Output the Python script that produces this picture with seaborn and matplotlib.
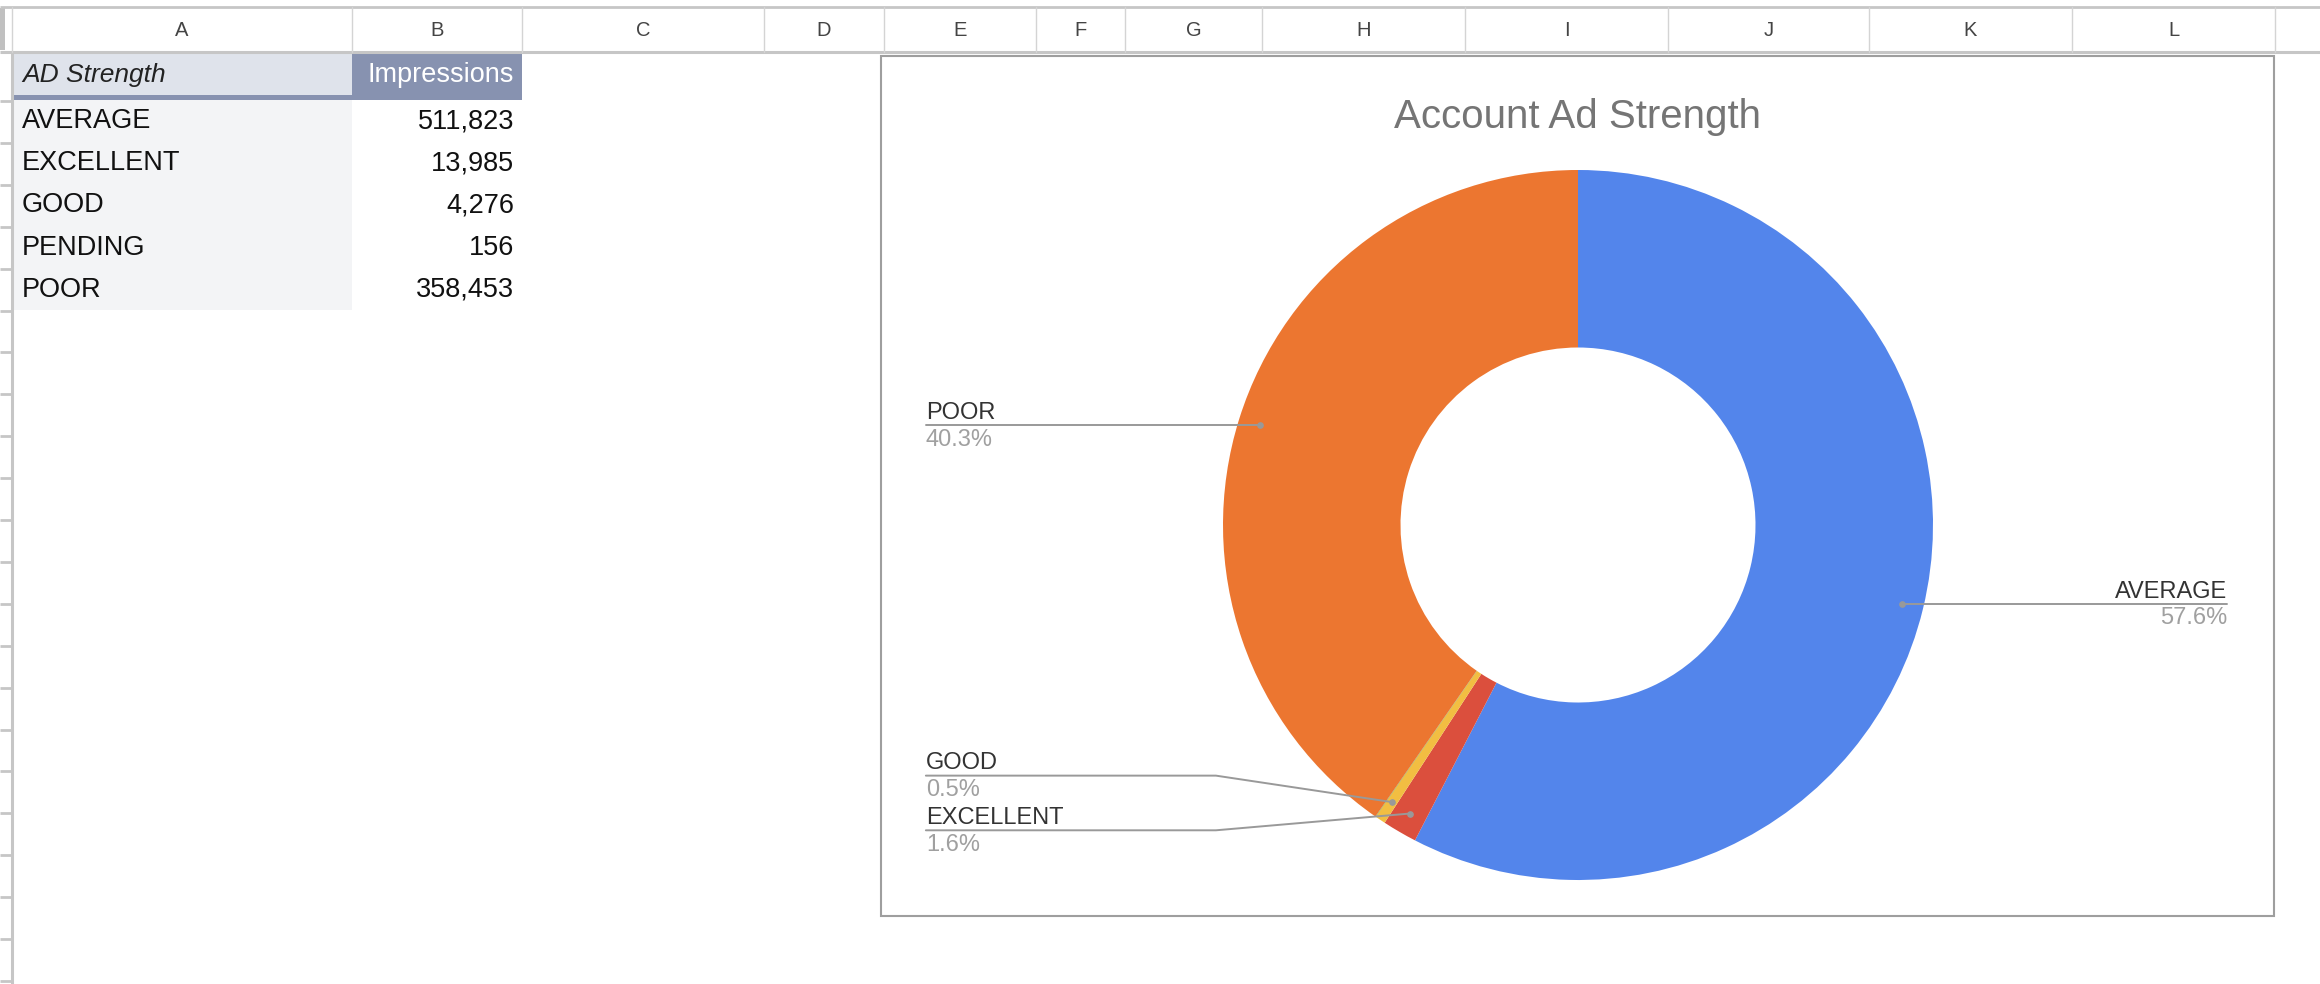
import matplotlib
matplotlib.use("Agg")
import matplotlib.pyplot as plt
import seaborn as sns
import numpy as np
import pandas as pd
from matplotlib.patches import Rectangle

# ---------------- data ----------------
categories = ["AVERAGE", "EXCELLENT", "GOOD", "PENDING", "POOR"]
impressions = [511823, 13985, 4276, 156, 358453]
column_letters = ["A", "B", "C", "D", "E", "F", "G", "H", "I", "J", "K", "L"]
header_labels = ["AD Strength", "Impressions"]
chart_title = "Account Ad Strength"
slice_colors = ["#5385EB", "#DB4F3D", "#F2BE42", "#3DA65A", "#EC7630"]

sns.set_theme(style="white")
plt.rcParams["font.family"] = ["Liberation Sans", "DejaVu Sans"]

df = pd.DataFrame({"strength": categories, "impressions": impressions})
df["share"] = df["impressions"] / df["impressions"].sum() * 100

W, H = 2320, 984
fig = plt.figure(figsize=(W / 100, H / 100), dpi=100)
fig.patch.set_facecolor("white")

# ---------------- spreadsheet background ----------------
bg = fig.add_axes([0, 0, 1, 1])
bg.set_xlim(0, W)
bg.set_ylim(H, 0)
bg.axis("off")

col_edges = [12, 352, 522, 764, 884, 1036, 1125, 1262, 1465, 1668, 1869, 2072, 2275]
grid_c = "#c6c6c6"
bg.plot([0, W], [7, 7], color=grid_c, lw=2, solid_capstyle="butt")
bg.plot([0, W], [52, 52], color=grid_c, lw=2.2, solid_capstyle="butt")
bg.plot([12, 12], [52, H], color=grid_c, lw=2.2, solid_capstyle="butt")
bg.add_patch(Rectangle((0, 8), 5, 42, color="#c0c0c0", lw=0))
for x in col_edges:
    bg.plot([x, x], [7, 52], color="#d4d4d4", lw=1)
for i, lab in enumerate(column_letters):
    bg.text((col_edges[i] + col_edges[i + 1]) / 2, 30, lab, ha="center", va="center",
            fontsize=14.5, color="#444444")
row_h = 41.9
for k in range(22):
    y = 101 + k * row_h
    bg.plot([0, 12], [y, y], color=grid_c, lw=2, solid_capstyle="butt")

# table
bg.add_patch(Rectangle((12, 52), 340, 45, color="#DFE3EB", lw=0))
bg.add_patch(Rectangle((352, 52), 170, 48, color="#8792B0", lw=0))
bg.add_patch(Rectangle((12, 95), 340, 5, color="#8792B0", lw=0))
bg.add_patch(Rectangle((12, 100), 340, 210, color="#F3F4F6", lw=0))
bg.text(22, 75, header_labels[0], style="italic", ha="left", va="center",
        fontsize=19, color="#222222")
bg.text(514, 75, header_labels[1], ha="right", va="center", fontsize=19.5, color="white")
for i, (cat, val) in enumerate(zip(categories, impressions)):
    yc = 121 + i * 42.2
    bg.text(22, yc, cat, ha="left", va="center", fontsize=19.5, color="#111111")
    bg.text(514, yc, f"{val:,}", ha="right", va="center", fontsize=19.5, color="#111111")

# chart frame
x0, x1, y0, y1 = 881, 2274, 56, 916
bg.add_patch(Rectangle((x0, y0), x1 - x0, y1 - y0, fill=False, ec="#9e9e9e", lw=1.5))

# ---------------- donut chart ----------------
cx, cy, R = 1578, 525, 355
ax = fig.add_axes([x0 / W, 1 - y1 / H, (x1 - x0) / W, (y1 - y0) / H])
wedges, _ = ax.pie(df["impressions"], colors=slice_colors, startangle=90,
                   counterclock=False, radius=1,
                   wedgeprops=dict(width=0.5, linewidth=0))
ax.set_xlim((x0 - cx) / R, (x1 - cx) / R)
ax.set_ylim((cy - y1) / R, (cy - y0) / R)
ax.set_aspect("auto")
ax.patch.set_alpha(0)
ax.axis("off")

ax.text(0, (cy - 117) / R, chart_title, ha="center", va="center",
        fontsize=29, color="#757575")

label_layout = {"AVERAGE": ("right", None), "POOR": ("left", None),
                "GOOD": ("left", -0.706), "EXCELLENT": ("left", -0.860)}
x_left, x_right, x_knee = -1.837, 1.828, -1.02
line_c = "#999999"
for w, cat, share in zip(wedges, df["strength"], df["share"]):
    if cat not in label_layout:
        continue
    side, ylab = label_layout[cat]
    mid = np.deg2rad((w.theta1 + w.theta2) / 2)
    dx, dy = 0.94 * np.cos(mid), 0.94 * np.sin(mid)
    xend = x_left if side == "left" else x_right
    if ylab is None:
        xs, ys = [dx, xend], [dy, dy]
        ylab = dy
    else:
        xs, ys = [dx, x_knee, xend], [dy, ylab, ylab]
    ax.plot(xs, ys, color=line_c, lw=1.4, zorder=3)
    ax.plot([dx], [dy], "o", ms=3.8, color=line_c, zorder=4)
    ha = "left" if side == "left" else "right"
    ax.annotate(cat, (xend, ylab), xytext=(0, 4.5), textcoords="offset points",
                ha=ha, va="baseline", fontsize=17, color="#333333")
    ax.annotate(f"{share:.1f}%", (xend, ylab), xytext=(0, -2.5), textcoords="offset points",
                ha=ha, va="top", fontsize=17, color="#a0a0a0")

fig.savefig("out.png", dpi=100)
